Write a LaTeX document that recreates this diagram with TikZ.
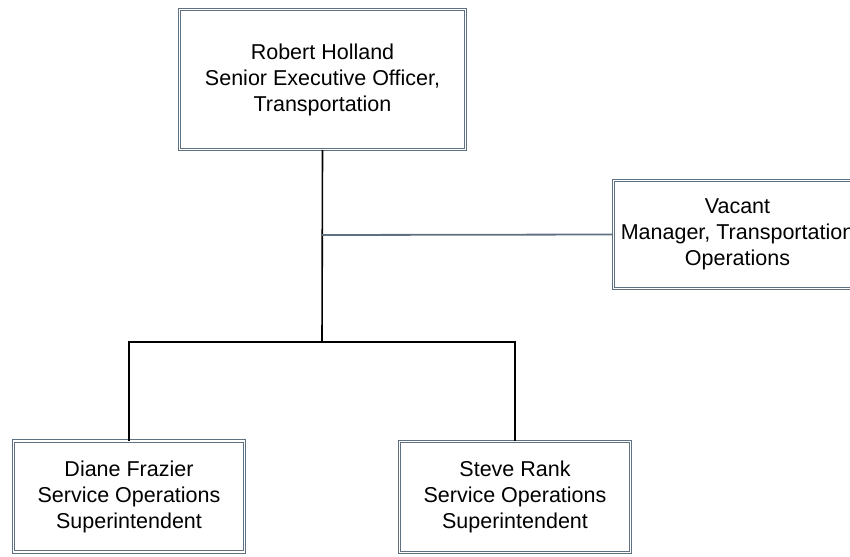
\documentclass[tikz,border=0pt]{standalone}
\usepackage{fontspec}
\setmainfont{Liberation Sans}
\definecolor{orgslate}{HTML}{5F7080}
\usetikzlibrary{positioning}

\begin{document}
\begin{tikzpicture}[
  x=1pt, y=-1pt,
  font=\fontsize{21.5}{26}\selectfont,
  person/.style={draw=orgslate, line width=1pt, double=white, double distance=1.6pt, fill=white, align=center, inner sep=2pt, minimum width=231pt, minimum height=111pt},
  link/.style={draw=black, line width=1.6pt},
  stafflink/.style={draw=orgslate, line width=1.8pt},
]
  \clip (0,0) rectangle (850,556);
  \node[person, minimum width=286pt, minimum height=140pt] (holland) at (322.5,79.5) {Robert Holland\\Senior Executive Officer,\\Transportation};
  \node[person, minimum width=248pt, minimum height=108pt] (vacant) at (737.5,234.5) {Vacant\\Manager, Transportation\\Operations};
  \node[person] (frazier) at (129,496.5) {Diane Frazier\\Service Operations\\Superintendent};
  \node[person] (rank) at (515,497) {Steve Rank\\Service Operations\\Superintendent};
  \coordinate (bus) at (322,342);
  \coordinate (staff) at (322,235);
  \draw[link] (holland.south) -- (bus);
  \draw[stafflink] (staff) -- (vacant.west);
  \draw[link] (frazier.north) |- (bus) -| (rank.north);
\end{tikzpicture}
\end{document}
